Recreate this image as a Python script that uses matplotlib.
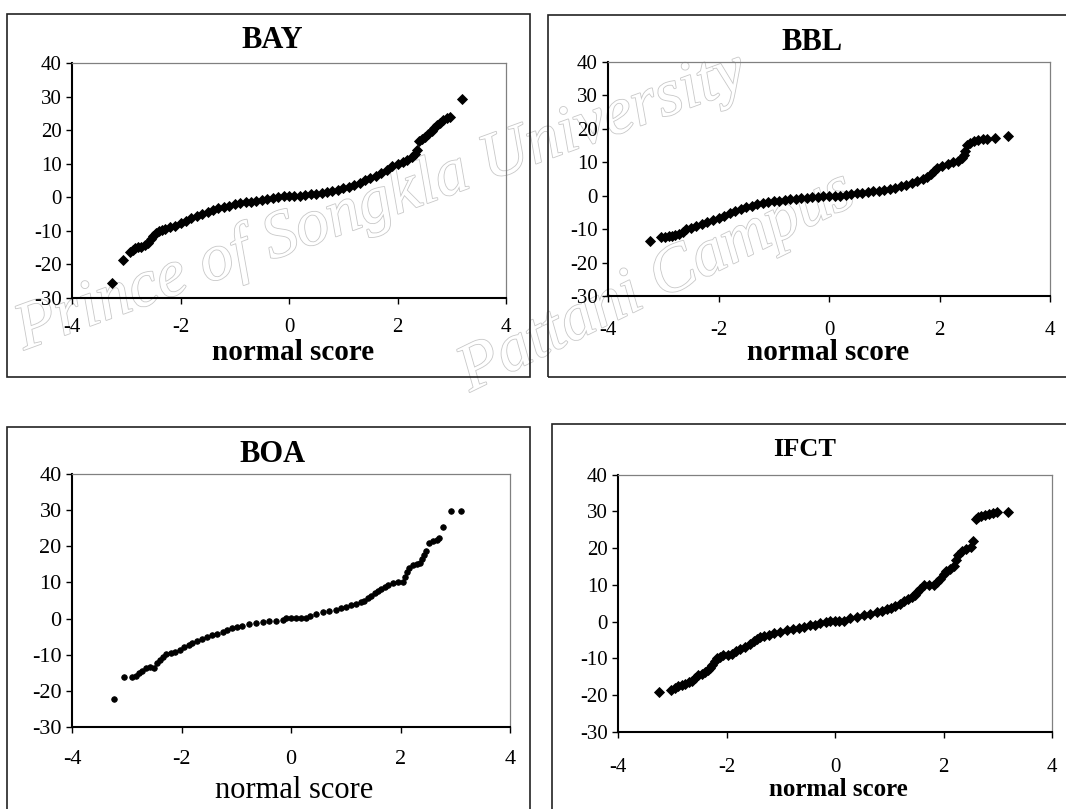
import matplotlib
matplotlib.use("Agg")
import matplotlib.pyplot as plt
import matplotlib.patheffects as pe
from matplotlib.patches import Rectangle

plt.rcParams['font.family'] = ['Liberation Serif', 'DejaVu Serif']
plt.rcParams['axes.unicode_minus'] = False

W, H = 1066, 809

# normal score / value pairs
bay_x = [-3.27, -3.06, -2.94, -2.88, -2.84, -2.78, -2.72, -2.66, -2.6, -2.55, -2.5, -2.45,
         -2.4, -2.34, -2.28, -2.2, -2.1, -2.0, -1.9, -1.8, -1.7, -1.6, -1.5, -1.4, -1.3, -1.2,
         -1.1, -1.0, -0.9, -0.8, -0.7, -0.6, -0.5, -0.4, -0.3, -0.2, -0.1, 0.0, 0.1, 0.2, 0.3,
         0.4, 0.5, 0.6, 0.7, 0.8, 0.9, 1.0, 1.1, 1.2, 1.3, 1.4, 1.5, 1.6, 1.7, 1.8, 1.9, 2.0,
         2.1, 2.18, 2.26, 2.32, 2.36, 2.39, 2.45, 2.5, 2.56, 2.63, 2.68, 2.72, 2.78, 2.84,
         2.92, 2.97, 3.18]
bay_y = [-25.4, -18.6, -16.4, -15.6, -15.0, -14.9, -14.7, -14.3, -13.6, -12.4, -11.5, -10.6,
         -10.0, -9.6, -9.3, -9.0, -8.6, -7.8, -7.0, -6.2, -5.6, -5.0, -4.4, -3.8, -3.3, -2.9,
         -2.5, -2.1, -1.7, -1.5, -1.3, -1.0, -0.7, -0.4, -0.1, 0.2, 0.4, 0.5, 0.4, 0.4, 0.6,
         0.9, 1.1, 1.4, 1.7, 2.0, 2.3, 2.7, 3.2, 3.8, 4.4, 5.1, 5.7, 6.3, 7.1, 8.0, 9.4, 10.0,
         10.5, 11.0, 11.9, 12.8, 14.0, 16.7, 17.4, 18.1, 18.9, 19.7, 20.6, 21.4, 22.2, 22.9,
         23.5, 23.9, 29.2]

bbl_x = [-3.24, -3.04, -2.96, -2.9, -2.84, -2.78, -2.72, -2.65, -2.58, -2.5, -2.4, -2.3,
         -2.2, -2.1, -2.0, -1.9, -1.8, -1.7, -1.6, -1.5, -1.4, -1.3, -1.2, -1.1, -1.0, -0.9,
         -0.8, -0.7, -0.6, -0.5, -0.4, -0.3, -0.2, -0.1, 0.0, 0.1, 0.2, 0.3, 0.4, 0.5, 0.6,
         0.7, 0.8, 0.9, 1.0, 1.1, 1.2, 1.3, 1.4, 1.5, 1.6, 1.7, 1.78, 1.84, 1.9, 1.96, 2.05,
         2.15, 2.25, 2.33, 2.4, 2.44, 2.47, 2.5, 2.55, 2.62, 2.7, 2.78, 2.86, 3.01, 3.24]
bbl_y = [-13.4, -12.1, -12.1, -12.0, -11.8, -11.5, -11.2, -10.6, -10.0, -9.5, -9.0, -8.5,
         -7.9, -7.3, -6.7, -6.0, -5.2, -4.6, -3.9, -3.4, -2.9, -2.5, -2.1, -1.8, -1.6, -1.4,
         -1.2, -1.0, -0.8, -0.7, -0.5, -0.3, -0.2, 0.0, 0.0, 0.1, 0.1, 0.4, 0.6, 0.8, 1.0,
         1.2, 1.4, 1.6, 1.8, 2.1, 2.5, 2.9, 3.4, 4.0, 4.5, 5.0, 5.7, 6.6, 7.5, 8.3, 9.0,
         9.7, 10.1, 10.5, 11.2, 12.2, 13.5, 15.1, 15.9, 16.3, 16.6, 16.9, 17.1, 17.3, 18.0]

boa_x = [-3.24, -3.05, -2.90, -2.84, -2.78, -2.72, -2.65, -2.58, -2.50, -2.44, -2.39, -2.34,
         -2.28, -2.2, -2.11, -2.03, -1.95, -1.87, -1.80, -1.71, -1.62, -1.53, -1.44, -1.35,
         -1.25, -1.16, -1.07, -0.98, -0.89, -0.77, -0.64, -0.52, -0.40, -0.28, -0.15, -0.09,
         0.0, 0.09, 0.18, 0.27, 0.34, 0.46, 0.58, 0.70, 0.82, 0.92, 1.01, 1.10, 1.19, 1.27,
         1.34, 1.41, 1.47, 1.53, 1.59, 1.65, 1.71, 1.78, 1.86, 1.95, 2.05, 2.09, 2.12, 2.16,
         2.22, 2.30, 2.36, 2.40, 2.43, 2.47, 2.52, 2.60, 2.66, 2.71, 2.78, 2.92, 3.10]
boa_y = [-22.3, -16.3, -16.3, -15.8, -15.0, -14.4, -13.6, -13.3, -13.6, -12.4, -11.4, -10.6,
         -9.8, -9.5, -9.2, -8.6, -8.0, -7.4, -6.8, -6.3, -5.7, -5.1, -4.6, -4.2,
         -3.8, -3.2, -2.7, -2.3, -2.0, -1.6, -1.3, -0.9, -0.7, -0.6, -0.4, 0.1,
         0.1, 0.1, 0.1, 0.1, 0.7, 1.2, 1.7, 2.0, 2.4, 2.9, 3.3, 3.7, 4.1, 4.5,
         5.0, 5.6, 6.3, 7.0, 7.6, 8.2, 8.7, 9.3, 9.9, 10.2, 10.2, 11.5, 12.8, 14.0,
         14.8, 15.0, 15.4, 16.4, 17.6, 18.6, 21.0, 21.5, 21.8, 22.2, 25.3, 29.7, 29.7]

ifct_x = [-3.24, -3.03, -2.95, -2.89, -2.82, -2.76, -2.70, -2.64, -2.58, -2.52, -2.45, -2.39,
          -2.34, -2.30, -2.26, -2.22, -2.18, -2.12, -2.06, -1.98, -1.90, -1.82, -1.75, -1.66,
          -1.56, -1.50, -1.44, -1.38, -1.30, -1.21, -1.13, -1.01, -0.89, -0.77, -0.66, -0.58,
          -0.46, -0.36, -0.27, -0.17, -0.09, 0.0, 0.08, 0.16, 0.28, 0.40, 0.53, 0.65, 0.78,
          0.87, 0.96, 1.04, 1.11, 1.19, 1.27, 1.35, 1.42, 1.47, 1.51, 1.57, 1.64, 1.73, 1.82,
          1.88, 1.94, 2.00, 2.04, 2.12, 2.19, 2.23, 2.27, 2.34, 2.42, 2.50, 2.55, 2.59, 2.64,
          2.70, 2.77, 2.84, 2.92, 2.98, 3.18]
ifct_y = [-19.0, -18.7, -18.1, -17.6, -17.3, -16.9, -16.5, -16.0, -15.2, -14.5, -14.1, -13.7,
          -13.1, -12.6, -11.8, -10.8, -9.9, -9.5, -9.2, -9.0, -8.7, -8.0, -7.4, -6.8,
          -6.0, -5.2, -4.7, -4.3, -3.9, -3.5, -3.2, -2.7, -2.3, -2.0, -1.6, -1.4,
          -1.0, -0.8, -0.5, -0.1, 0.3, 0.3, 0.3, 0.3, 1.0, 1.3, 1.7, 2.1, 2.5,
          2.9, 3.4, 3.8, 4.3, 4.9, 5.6, 6.2, 6.7, 7.3, 8.0, 9.0, 10.0, 10.0, 10.0,
          10.8, 11.7, 13.0, 13.8, 14.4, 15.2, 16.8, 18.0, 19.1, 19.7, 20.4, 22.0, 27.8, 28.4,
          28.8, 29.0, 29.2, 29.5, 29.7, 29.7]

names = ['BAY', 'BBL', 'BOA', 'IFCT']
xs = [bay_x, bbl_x, boa_x, ifct_x]
ys = [bay_y, bbl_y, boa_y, ifct_y]
x_ticks = [-4, -2, 0, 2, 4]
y_ticks = [-30, -20, -10, 0, 10, 20, 30, 40]

# layout in pixels: plot area (l, r, top, bottom), panel frame (l, top, r, bottom)
plot_px = [(72, 506, 63, 298), (608, 1050, 62, 296.5), (72, 510, 474, 727), (618, 1052, 474.5, 732)]
frame_px = [(7, 14, 530, 377), (548, 15, 1080, 377), (7, 427, 530, 830), (552, 424, 1080, 830)]
title_px = [(272, 41, 22), (812, 43, 22), (273, 455, 22), (805, 450, 19)]
xlabel_px = [(293, 352, 21, 'bold'), (828, 353, 21, 'bold'), (294, 790, 22, 'normal'), (838, 789, 18, 'bold')]
tick_size = [15, 15, 16, 15]
x_pad = [10, 13, 12, 14]
marker = [('D', 5.6), ('D', 5.6), ('o', 4.0), ('D', 5.6)]

fig = plt.figure(figsize=(W / 100, H / 100), dpi=100)

# faint outlined watermark behind everything
wm = dict(fontsize=48, style='italic', color='white', zorder=-5,
          rotation_mode='anchor', ha='left', va='baseline',
          path_effects=[pe.Stroke(linewidth=1.2, foreground='#c8c8c8'), pe.Normal()])
fig.text(24 / W, 1 - 350 / H, 'Prince of Songkla University', rotation=20, **wm)
fig.text(470 / W, 1 - 392 / H, 'Pattani Campus', rotation=26, **wm)

for i in range(4):
    fl, ft, fr, fb = frame_px[i]
    fig.patches.append(Rectangle((fl / W, 1 - fb / H), (fr - fl) / W, (fb - ft) / H,
                                 transform=fig.transFigure, fill=False,
                                 edgecolor='#222222', linewidth=1.2, zorder=-1))

    l, r, t, b = plot_px[i]
    ax = fig.add_axes([l / W, 1 - b / H, (r - l) / W, (b - t) / H])
    ax.set_facecolor('none')
    ax.plot(xs[i], ys[i], linestyle='none', marker=marker[i][0], markersize=marker[i][1],
            color='black', markeredgewidth=0.6, clip_on=False)
    ax.set_xlim(-4, 4)
    ax.set_ylim(-30, 40)
    ax.set_xticks(x_ticks)
    ax.set_yticks(y_ticks)
    ax.tick_params(direction='out', length=4.5, width=1.0, labelsize=tick_size[i], colors='black')
    ax.tick_params(axis='x', pad=x_pad[i])
    ax.tick_params(axis='y', pad=3)
    for side in ['left', 'bottom']:
        ax.spines[side].set_linewidth(1.5)
        ax.spines[side].set_color('black')
    for side in ['top', 'right']:
        ax.spines[side].set_linewidth(0.9)
        ax.spines[side].set_color('#808080')

    tx, ty, ts = title_px[i]
    ax.text((tx - l) / (r - l), (b - ty) / (b - t), names[i], transform=ax.transAxes,
            ha='center', va='center', fontsize=ts, fontweight='bold')

    lx, ly, ls, lw = xlabel_px[i]
    ax.set_xlabel('normal score', fontsize=ls, fontweight=lw)
    ax.xaxis.set_label_coords((lx - l) / (r - l), (b - ly) / (b - t))
    ax.xaxis.label.set_va('center')

fig.savefig('out.png', dpi=100)
